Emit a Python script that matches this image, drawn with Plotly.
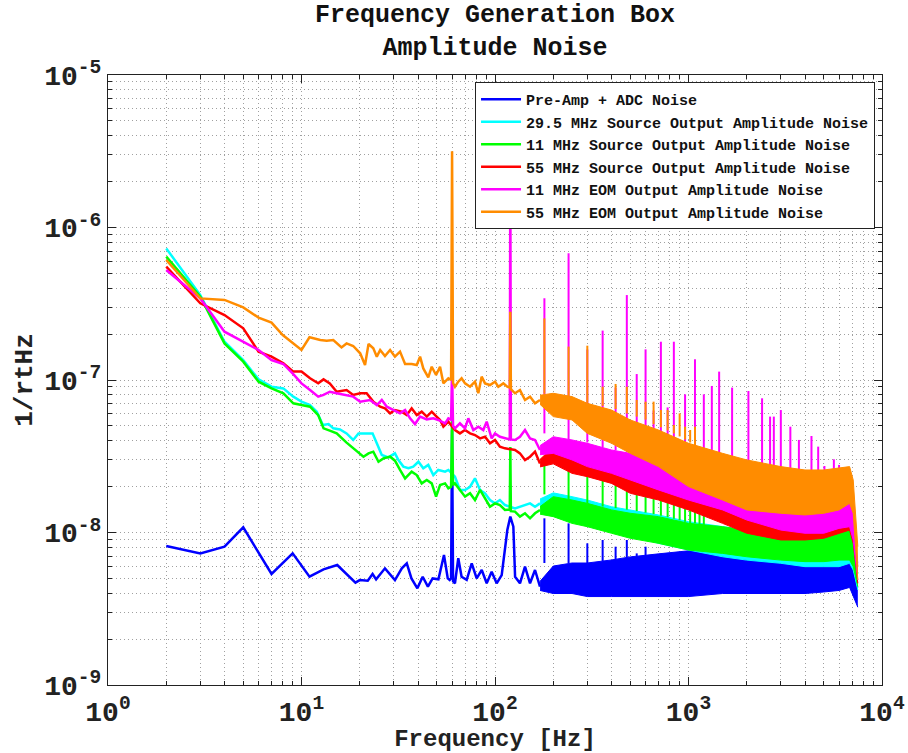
import numpy as np
import plotly.graph_objects as go

# ---------------- data ----------------
series_names = [
    "Pre-Amp + ADC Noise",
    "29.5 MHz Source Output Amplitude Noise",
    "11 MHz Source Output Amplitude Noise",
    "55 MHz Source Output Amplitude Noise",
    "11 MHz EOM Output Amplitude Noise",
    "55 MHz EOM Output Amplitude Noise",
]
series_colors = ["#0000ff", "#00ffff", "#00ff00", "#ff0000", "#ff00ff", "#ff8c00"]

# low-frequency part (individual points visible): frequency [Hz], log10(amplitude [1/rtHz])
preamp_f = [2, 3, 4, 5, 7, 9, 11, 13, 15.3, 17, 19, 20, 22, 23.3, 24.3, 27, 30.4, 33, 35, 37,
            39.7, 42.3, 45, 47.6, 51, 54.5, 57, 58.3, 59.3, 60, 60.7, 62.1, 64.6, 67.2, 71.4, 75.8,
            80.4, 85.4, 90.6, 96.1, 102, 108.3, 112.6, 115.8, 120, 124.4, 127, 134.6, 142.9, 151.7,
            161, 170.8]
preamp_log = [-8.089, -8.137, -8.093, -7.966, -8.272, -8.137, -8.290, -8.242, -8.213, -8.268,
              -8.329, -8.312, -8.316, -8.272, -8.307, -8.235, -8.312, -8.235, -8.202, -8.301,
              -8.366, -8.290, -8.355, -8.301, -8.307, -8.148, -8.301, -8.311, -8.300, -7.330,
              -8.320, -8.333, -8.169, -8.290, -8.311, -8.202, -8.301, -8.246, -8.333, -8.257,
              -8.333, -8.279, -8.082, -7.984, -7.896, -7.962, -8.290, -8.333, -8.224, -8.333,
              -8.246, -8.355]

src29_f = [2, 3, 4, 5, 6, 7, 8.06, 9.07, 10, 11.07, 12, 12.9, 13.8, 14.6, 15.8, 17.1, 18.5, 19.7,
           20.9, 23.3, 24.5, 26, 28.1, 30.4, 31.7, 33.6, 35.7, 37.8, 40.2, 42.6, 45.2, 48, 50.9,
           55.2, 57.4, 62.1, 65.9, 70, 74.3, 78.8, 83.7, 88.8, 94.2, 100, 106, 112.6, 126.9,
           134.6, 142.9, 151.7, 161, 170.8]
src29_log = [-6.137, -6.443, -6.749, -6.869, -6.996, -7.044, -7.055, -7.109, -7.142, -7.164,
             -7.208, -7.295, -7.289, -7.317, -7.324, -7.350, -7.393, -7.350, -7.350, -7.350,
             -7.415, -7.492, -7.507, -7.481, -7.525, -7.568, -7.579, -7.568, -7.536, -7.579,
             -7.557, -7.623, -7.590, -7.601, -7.590, -7.634, -7.721, -7.721, -7.700, -7.645,
             -7.721, -7.743, -7.787, -7.809, -7.787, -7.820, -7.842, -7.831, -7.820, -7.809,
             -7.831, -7.809]

src11_f = [2, 3, 4, 5, 6, 7, 8.06, 9.07, 10, 11.07, 12.2, 13, 14, 15.2, 17.1, 19.3, 20.9, 22.2,
           23.5, 25, 26.5, 28.7, 30.4, 32.3, 34.3, 37.1, 39.4, 41.8, 44.4, 47.1, 49.6, 52, 55.2,
           57.4, 59.3, 60, 60.7, 62.1, 65.9, 70, 74.3, 78.8, 83.7, 88.8, 94.2, 100, 106, 112.6,
           119.2, 120, 120.8, 126.9, 134.6, 142.9, 151.7, 161, 170.8]
src11_log = [-6.191, -6.454, -6.760, -6.880, -7.011, -7.055, -7.087, -7.153, -7.164, -7.175,
             -7.230, -7.317, -7.332, -7.350, -7.411, -7.470, -7.503, -7.481, -7.470, -7.536,
             -7.514, -7.503, -7.529, -7.590, -7.645, -7.601, -7.623, -7.678, -7.656, -7.678,
             -7.765, -7.689, -7.678, -7.710, -7.700, -7.245, -7.690, -7.678, -7.721, -7.765,
             -7.743, -7.787, -7.721, -7.776, -7.831, -7.809, -7.820, -7.852, -7.850, -7.440,
             -7.860, -7.863, -7.896, -7.874, -7.907, -7.874, -7.852]

src55_f = [2, 3, 4, 5, 6, 7, 8.06, 9.07, 10, 11.07, 12.2, 13, 14, 15.2, 17.1, 18.5, 20.1, 21.7,
           23.5, 25.5, 27, 28.7, 30.4, 32.9, 35, 37.1, 39.4, 41.8, 44.4, 47.1, 49.9, 52, 54.1,
           57.4, 62.1, 65.9, 70, 74.3, 78.8, 83.7, 88.8, 94.2, 100, 106, 112.6, 126.9, 134.6,
           142.9, 151.7, 161, 170.8]
src55_log = [-6.257, -6.497, -6.574, -6.661, -6.814, -6.847, -6.891, -6.945, -6.945, -6.989,
             -7.022, -6.996, -7.022, -7.077, -7.066, -7.098, -7.087, -7.087, -7.142, -7.175,
             -7.186, -7.219, -7.197, -7.208, -7.230, -7.186, -7.230, -7.208, -7.240, -7.208,
             -7.240, -7.262, -7.306, -7.273, -7.328, -7.350, -7.328, -7.350, -7.361, -7.383,
             -7.372, -7.415, -7.393, -7.437, -7.448, -7.459, -7.481, -7.525, -7.503, -7.470,
             -7.547]

eom11_f = [2, 3, 4, 5, 6, 7, 8.06, 9.07, 10, 11.07, 12.2, 13, 14, 15.2, 17.1, 18.5, 20.1, 22.6,
           24.5, 26, 27.6, 29.8, 32.3, 34.3, 36.4, 38.6, 41, 44.4, 48, 50.9, 55.2, 57.4, 59.3, 60,
           60.7, 62.1, 65.9, 70, 72.8, 77.3, 82, 87, 90.6, 96.1, 100, 106, 112.6, 119.2, 120,
           120.8, 126.9, 134.6, 142.9, 151.7, 161, 170.8]
eom11_log = [-6.279, -6.465, -6.683, -6.749, -6.803, -6.869, -6.895, -6.961, -7.022, -7.066,
             -7.109, -7.098, -7.077, -7.087, -7.103, -7.109, -7.142, -7.131, -7.164, -7.131,
             -7.175, -7.197, -7.219, -7.197, -7.251, -7.289, -7.240, -7.258, -7.251, -7.262,
             -7.284, -7.251, -7.260, -6.930, -7.300, -7.317, -7.284, -7.317, -7.251, -7.328,
             -7.306, -7.328, -7.273, -7.383, -7.350, -7.372, -7.383, -7.390, -5.600, -7.390,
             -7.393, -7.372, -7.328, -7.383, -7.393, -7.459]

eom55_f = [2, 3, 4, 5, 6, 7, 8, 10, 11, 12.5, 13.5, 14.6, 16.1, 17.1, 18.5, 20.1, 21.3, 22.2,
           23.5, 24.5, 25.5, 27, 28.7, 30.4, 32.3, 34.3, 37.1, 39.4, 41, 42.6, 45.2, 47.1, 49.6,
           52, 54.1, 57.4, 59.3, 60, 60.7, 62.1, 64.6, 67.2, 70, 74.3, 78.8, 82, 85.3, 88.8, 94.2,
           100, 104, 110.4, 115.8, 119.2, 120, 120.8, 126.9, 134.6, 142.9, 151.7, 161, 170.8]
eom55_log = [-6.213, -6.465, -6.475, -6.524, -6.591, -6.624, -6.705, -6.803, -6.720, -6.738,
             -6.742, -6.738, -6.786, -6.760, -6.777, -6.825, -6.902, -6.764, -6.792, -6.847,
             -6.803, -6.843, -6.803, -6.847, -6.814, -6.895, -6.895, -6.902, -6.847, -6.924,
             -6.983, -6.913, -6.967, -6.913, -7.022, -6.989, -7.000, -5.500, -7.020, -7.044,
             -7.011, -6.989, -7.022, -7.044, -7.011, -7.087, -6.978, -7.022, -7.033, -7.011,
             -7.044, -7.022, -7.044, -7.050, -6.552, -7.060, -7.087, -7.066, -7.131, -7.109,
             -7.153, -7.131]

# high-frequency part (dense noise band): upper / lower edges, log10(amplitude)
band_f = [171, 200, 250, 300, 400, 500, 700, 1000, 1500, 2000, 3000, 4000, 5000, 6000, 6800,
          7100, 7300, 7500]
preamp_band_hi = [-8.32, -8.22, -8.20, -8.20, -8.18, -8.16, -8.14, -8.12, -8.12, -8.16, -8.18,
                  -8.18, -8.18, -8.18, -8.18, -8.25, -8.31, -8.36]
preamp_band_lo = [-8.38, -8.40, -8.40, -8.42, -8.42, -8.42, -8.42, -8.42, -8.40, -8.40, -8.40,
                  -8.40, -8.39, -8.38, -8.36, -8.42, -8.46, -8.49]
src29_band_hi = [-7.78, -7.74, -7.765, -7.787, -7.831, -7.852, -7.885, -7.929, -7.962, -7.984,
                 -8.005, -8.016, -8.016, -8.005, -7.984, -8.049, -8.181, -8.268]
src29_band_lo = [-7.84, -7.87, -7.918, -7.940, -7.984, -8.016, -8.071, -8.115, -8.159, -8.181,
                 -8.202, -8.224, -8.224, -8.224, -8.202, -8.246, -8.311, -8.377]
src11_band_hi = [-7.83, -7.765, -7.787, -7.809, -7.852, -7.874, -7.896, -7.940, -7.962, -7.984,
                 -8.005, -8.016, -8.016, -8.005, -7.984, -8.049, -8.181, -8.268]
src11_band_lo = [-7.88, -7.896, -7.940, -7.962, -8.005, -8.038, -8.071, -8.115, -8.137, -8.159,
                 -8.181, -8.191, -8.191, -8.181, -8.181, -8.224, -8.290, -8.355]
src55_band_hi = [-7.52, -7.44, -7.481, -7.524, -7.546, -7.590, -7.634, -7.678, -7.743, -7.787,
                 -7.852, -7.874, -7.874, -7.852, -7.831, -7.896, -8.049, -8.224]
src55_band_lo = [-7.57, -7.55, -7.612, -7.634, -7.678, -7.743, -7.787, -7.852, -7.940, -8.005,
                 -8.049, -8.049, -8.038, -8.005, -7.984, -8.071, -8.224, -8.333]
eom11_band_hi = [-7.43, -7.372, -7.393, -7.415, -7.459, -7.481, -7.546, -7.590, -7.656, -7.721,
                 -7.787, -7.809, -7.809, -7.787, -7.787, -7.874, -8.049, -8.202]
eom11_band_lo = [-7.49, -7.481, -7.524, -7.568, -7.612, -7.656, -7.721, -7.787, -7.852, -7.918,
                 -7.984, -8.005, -8.005, -7.973, -7.962, -8.049, -8.202, -8.311]
eom55_band_hi = [-7.10, -7.087, -7.109, -7.153, -7.197, -7.262, -7.328, -7.415, -7.481, -7.524,
                 -7.568, -7.590, -7.590, -7.579, -7.568, -7.656, -7.874, -8.093]
eom55_band_lo = [-7.16, -7.240, -7.262, -7.350, -7.415, -7.481, -7.568, -7.699, -7.787, -7.852,
                 -7.874, -7.885, -7.874, -7.852, -7.809, -7.874, -8.093, -8.311]

# mains-harmonic lines in the high-frequency part: frequency, peak and foot (log10)
preamp_spike_f = [180, 240, 300, 360, 420, 480, 540, 600, 1380]
preamp_spike_top = [-7.907, -7.940, -8.071, -8.049, -8.093, -8.049, -8.137, -8.093, -8.005]
preamp_spike_base = [-8.20, -8.20, -8.20, -8.19, -8.18, -8.17, -8.17, -8.16, -8.12]

src11_spike_f = [180, 240, 300, 360, 420, 480, 540, 600, 660, 720, 780, 840, 900, 960, 1020,
                 1080, 1140, 1200]
src11_spike_top = [-7.535, -7.415, -7.568, -7.60, -7.65, -7.66, -7.70, -7.70, -7.74, -7.74,
                   -7.78, -7.78, -7.80, -7.82, -7.83, -7.84, -7.86, -7.86]
src11_spike_base = [-7.75, -7.78, -7.81, -7.83, -7.84, -7.85, -7.86, -7.87, -7.88, -7.89,
                    -7.90, -7.91, -7.92, -7.93, -7.94, -7.94, -7.95, -7.95]

eom11_spike_f = [180, 240, 300, 360, 420, 480, 540, 600, 660, 720, 780, 840, 960, 1080, 1200,
                 1320, 1440, 1680, 2040, 2400, 2640, 2760, 3000, 3360, 3720, 4320, 4680, 5040,
                 5640, 6000]
eom11_spike_top = [-6.464, -6.169, -6.80, -6.676, -7.05, -6.443, -6.961, -6.799, -7.20, -6.749,
                   -7.18, -6.749, -7.094, -6.864, -7.094, -7.039, -6.945, -7.050, -7.072, -7.120,
                   -7.240, -7.240, -7.197, -7.306, -7.393, -7.367, -7.437, -7.564, -7.520, -7.557]
eom11_spike_base = [-7.35, -7.39, -7.41, -7.44, -7.46, -7.47, -7.48, -7.50, -7.53, -7.55,
                    -7.56, -7.57, -7.58, -7.60, -7.62, -7.63, -7.64, -7.67, -7.72, -7.74,
                    -7.76, -7.77, -7.78, -7.79, -7.80, -7.81, -7.81, -7.81, -7.80, -7.79]

eom55_spike_f = [180, 240, 300, 360, 420, 480, 540, 600, 660, 720, 780, 840, 900, 960, 1020, 1080]
eom55_spike_top = [-6.596, -6.781, -6.775, -7.044, -7.026, -7.044, -7.131, -7.142, -7.142,
                   -7.197, -7.197, -7.295, -7.219, -7.306, -7.328, -7.306]
eom55_spike_base = [-7.09, -7.11, -7.15, -7.17, -7.19, -7.22, -7.24, -7.26, -7.29, -7.31,
                    -7.33, -7.35, -7.37, -7.39, -7.41, -7.43]

x_tick_vals = [1, 10, 100, 1000, 10000]
x_tick_text = ["10<sup>0</sup>", "10<sup>1</sup>", "10<sup>2</sup>", "10<sup>3</sup>", "10<sup>4</sup>"]
y_tick_vals = [1e-9, 1e-8, 1e-7, 1e-6, 1e-5]
y_tick_text = ["10<sup>-9</sup>", "10<sup>-8</sup>", "10<sup>-7</sup>", "10<sup>-6</sup>", "10<sup>-5</sup>"]

# ---------------- assemble ----------------
series = [
    dict(f=preamp_f, v=preamp_log, hi=preamp_band_hi, lo=preamp_band_lo,
         sf=preamp_spike_f, st=preamp_spike_top, sb=preamp_spike_base),
    dict(f=src29_f, v=src29_log, hi=src29_band_hi, lo=src29_band_lo, sf=[], st=[], sb=[]),
    dict(f=src11_f, v=src11_log, hi=src11_band_hi, lo=src11_band_lo,
         sf=src11_spike_f, st=src11_spike_top, sb=src11_spike_base),
    dict(f=src55_f, v=src55_log, hi=src55_band_hi, lo=src55_band_lo, sf=[], st=[], sb=[]),
    dict(f=eom11_f, v=eom11_log, hi=eom11_band_hi, lo=eom11_band_lo,
         sf=eom11_spike_f, st=eom11_spike_top, sb=eom11_spike_base),
    dict(f=eom55_f, v=eom55_log, hi=eom55_band_hi, lo=eom55_band_lo,
         sf=eom55_spike_f, st=eom55_spike_top, sb=eom55_spike_base),
]

for s in series:
    assert len(s["f"]) == len(s["v"]), (len(s["f"]), len(s["v"]))
    assert len(s["hi"]) == len(band_f) and len(s["lo"]) == len(band_f)
    assert len(s["sf"]) == len(s["st"]) == len(s["sb"])

fig = go.Figure()
for name, color, s in zip(series_names, series_colors, series):
    fig.add_trace(go.Scatter(x=band_f, y=10 ** np.array(s["hi"]), mode="lines",
                             line=dict(color=color, width=1), showlegend=False, hoverinfo="skip"))
    fig.add_trace(go.Scatter(x=band_f, y=10 ** np.array(s["lo"]), mode="lines",
                             line=dict(color=color, width=1), fill="tonexty", fillcolor=color,
                             showlegend=False, hoverinfo="skip"))
    fig.add_trace(go.Scatter(x=s["f"], y=10 ** np.array(s["v"]), mode="lines",
                             line=dict(color=color, width=2.5), name=name))
    if s["sf"]:
        xs, ys = [], []
        for f, top, base in zip(s["sf"], s["st"], s["sb"]):
            xs += [f, f, None]
            ys += [10 ** base, 10 ** top, None]
        fig.add_trace(go.Scatter(x=xs, y=ys, mode="lines", line=dict(color=color, width=2),
                                 showlegend=False, hoverinfo="skip"))

minor_x = [m * 10 ** k for k in range(0, 4) for m in range(2, 10)]
minor_y = [m * 10.0 ** k for k in range(-9, -5) for m in range(2, 10)]

font_family = "Liberation Mono, Courier New, monospace"
grid_color = "#a0a0a0"
axis_common = dict(
    type="log", automargin=False, ticks="inside", ticklen=8, tickwidth=1, tickcolor="#222",
    showline=True, linecolor="#222", linewidth=1, mirror="ticks",
    showgrid=True, gridcolor=grid_color, griddash="1px,3px", gridwidth=1, zeroline=False,
    tickfont=dict(size=28, family=font_family, color="#222", weight="bold"),
)

fig.update_xaxes(
    range=[0, 4], tickmode="array", tickvals=x_tick_vals, ticktext=x_tick_text,
    ticklabelstandoff=1,
    title=dict(text="Frequency [Hz]", font=dict(size=24, family=font_family, color="#222", weight="bold"),
               standoff=6),
    minor=dict(tickmode="array", tickvals=minor_x, ticks="inside", ticklen=4, tickcolor="#222",
               showgrid=True, gridcolor=grid_color, griddash="1px,3px", gridwidth=1),
    **axis_common,
)
fig.update_yaxes(
    range=[-9, -5], tickmode="array", tickvals=y_tick_vals, ticktext=y_tick_text,
    ticklabelstandoff=0,
    title=dict(text="1/rtHz", font=dict(size=26, family=font_family, color="#222", weight="bold"),
               standoff=4),
    minor=dict(tickmode="array", tickvals=minor_y, ticks="inside", ticklen=4, tickcolor="#222",
               showgrid=True, gridcolor=grid_color, griddash="1px,3px", gridwidth=1),
    **axis_common,
)

fig.update_layout(
    width=908, height=753,
    margin=dict(l=108, r=26, t=75, b=68),
    paper_bgcolor="white", plot_bgcolor="white",
    font=dict(family=font_family, color="#111", weight="bold"),
    legend=dict(x=0.991, xanchor="right", y=0.9885, yanchor="top", bgcolor="white",
                bordercolor="#222", borderwidth=1, itemwidth=40, traceorder="normal",
                font=dict(size=15, family=font_family, color="#111", weight="bold")),
    showlegend=True,
    annotations=[dict(text="Frequency Generation Box<br>Amplitude Noise", xref="paper", yref="paper",
                      x=0.5, y=1, yanchor="bottom", xanchor="center", yshift=10, showarrow=False,
                      font=dict(size=25, family=font_family, color="#111", weight="bold"))],
)

fig.write_html("out.html", config={"displayModeBar": False},
               post_script="document.body.style.margin='0px';")
